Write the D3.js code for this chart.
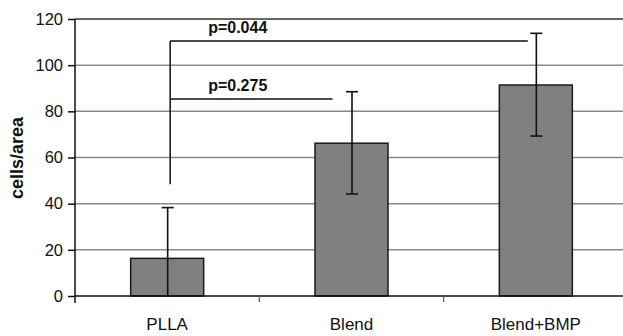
<!DOCTYPE html>
<html>
<head>
<meta charset="utf-8">
<script src="https://cdn.jsdelivr.net/npm/d3@7"></script>
<style>
  body { margin: 0; background: #fff; }
  svg { display: block; font-family: "Liberation Sans", Arial, sans-serif; }
</style>
</head>
<body>
<svg id="chart" width="623" height="336"></svg>
<script>
// data
var categories = ["PLLA", "Blend", "Blend+BMP"];
var means = [16.3, 66.2, 91.4];
var errLow = [0, 44.2, 69.3];
var errHigh = [38.3, 88.5, 113.8];
var yTicks = [0, 20, 40, 60, 80, 100, 120];

// significance brackets: from category, to category, level, label
var bracketFrom = ["PLLA", "PLLA"];
var bracketTo = ["Blend+BMP", "Blend"];
var bracketLevel = [110.5, 85.3];
var bracketLabel = ["p=0.044", "p=0.275"];
var bracketBase = 48.4;

var svg = d3.select("#chart");
// plot area (window.top is reserved, so use other names)
var plotL = 75, plotR = 628, plotT = 19, plotB = 296;

var x = d3.scaleBand().domain(categories).range([plotL, plotR]).padding(0);
var y = d3.scaleLinear().domain([0, 120]).range([plotB, plotT]);
var barW = 73;

// gridlines
svg.append("g").selectAll("line")
  .data(yTicks.filter(function(d){ return d > 0; }))
  .enter().append("line")
  .attr("x1", plotL).attr("x2", plotR)
  .attr("y1", function(d){ return y(d); })
  .attr("y2", function(d){ return y(d); })
  .attr("stroke", function(d){ return d == 120 ? "#333" : "#8a8a8a"; })
  .attr("stroke-width", 1.5);

// bars
svg.append("g").selectAll("rect")
  .data(categories)
  .enter().append("rect")
  .attr("x", function(d){ return x(d) + x.bandwidth() / 2 - barW / 2; })
  .attr("y", function(d, i){ return y(means[i]); })
  .attr("width", barW)
  .attr("height", function(d, i){ return y(0) - y(means[i]); })
  .attr("fill", "#808080")
  .attr("stroke", "#1a1a1a")
  .attr("stroke-width", 1.5);

// error bars
var eb = svg.append("g").attr("stroke", "#111").attr("stroke-width", 1.6);
categories.forEach(function(c, i){
  var cx = x(c) + x.bandwidth() / 2 + 0.5;
  eb.append("line").attr("x1", cx).attr("x2", cx)
    .attr("y1", y(errLow[i])).attr("y2", y(errHigh[i]));
  eb.append("line").attr("x1", cx - 6).attr("x2", cx + 6)
    .attr("y1", y(errHigh[i])).attr("y2", y(errHigh[i]));
  if(errLow[i] > 0){
    eb.append("line").attr("x1", cx - 6).attr("x2", cx + 6)
      .attr("y1", y(errLow[i])).attr("y2", y(errLow[i]));
  }
});

// brackets
var br = svg.append("g").attr("stroke", "#111").attr("stroke-width", 1.5);
var bx0 = x(bracketFrom[0]) + x.bandwidth() / 2 + 3;
br.append("line").attr("x1", bx0).attr("x2", bx0)
  .attr("y1", y(bracketBase)).attr("y2", y(d3.max(bracketLevel)));
var endGap = [8, 19];
bracketTo.forEach(function(c, i){
  var ex = x(c) + x.bandwidth() / 2 - endGap[i];
  br.append("line").attr("x1", bx0).attr("x2", ex)
    .attr("y1", y(bracketLevel[i])).attr("y2", y(bracketLevel[i]));
  svg.append("text")
    .attr("x", bx0 + 38).attr("y", y(bracketLevel[i]) - 8)
    .attr("font-size", 16).attr("font-weight", "bold")
    .attr("fill", "#111")
    .text(bracketLabel[i]);
});

// y axis
var yAxis = svg.append("g")
  .attr("transform", "translate(" + plotL + ",0)")
  .call(d3.axisLeft(y).tickValues(yTicks).tickSize(7).tickPadding(5));
yAxis.select(".domain").attr("stroke", "#111").attr("stroke-width", 1.5)
  .attr("d", "M0," + (plotB + 7) + "V" + plotT);
yAxis.selectAll(".tick line").attr("stroke", "#111").attr("stroke-width", 1.5);
yAxis.selectAll(".tick text").attr("font-size", 16.5).attr("fill", "#111")
  .attr("font-family", "Liberation Sans, Arial, sans-serif");

// x axis
var xAxis = svg.append("g")
  .attr("transform", "translate(0," + plotB + ")")
  .call(d3.axisBottom(x).tickSize(0).tickPadding(22));
xAxis.select(".domain").attr("stroke", "#111").attr("stroke-width", 1.5)
  .attr("d", "M" + plotL + ",0H" + plotR);
xAxis.selectAll(".tick text").attr("font-size", 17).attr("fill", "#111")
  .attr("font-family", "Liberation Sans, Arial, sans-serif");
xAxis.append("g").selectAll("line")
  .data(categories.slice(1))
  .enter().append("line")
  .attr("x1", function(d){ return x(d); })
  .attr("x2", function(d){ return x(d); })
  .attr("y1", 0).attr("y2", 6)
  .attr("stroke", "#555").attr("stroke-width", 1.2);

// y title
svg.append("text")
  .attr("transform", "translate(23,158) rotate(-90)")
  .attr("text-anchor", "middle")
  .attr("font-size", 18).attr("font-weight", "bold")
  .attr("fill", "#111")
  .text("cells/area");
</script>
</body>
</html>
